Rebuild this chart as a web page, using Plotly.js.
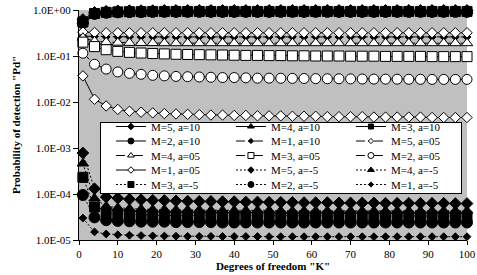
<!DOCTYPE html>
<html>
<head>
<meta charset="utf-8">
<script src="https://cdn.plot.ly/plotly-3.0.1.min.js"></script>
<style>html,body{margin:0;padding:0;background:#fff;}#chart{width:477px;height:275px;}</style>
</head>
<body>
<div id="chart"></div>
<script>
// ---- data ----
var degreesK = [1,4,7,10,13,16,19,22,25,28,31,34,37,40,43,46,49,52,55,58,61,64,67,70,73,76,79,82,85,88,91,94,97,100];

var seriesNames = ["M=5, a=10","M=4, a=10","M=3, a=10","M=2, a=10","M=1, a=10",
                   "M=5, a=05","M=4, a=05","M=3, a=05","M=2, a=05","M=1, a=05",
                   "M=5, a=-5","M=4, a=-5","M=3, a=-5","M=2, a=-5","M=1, a=-5"];

var pd_M5_a10 = [0.62,0.89,0.94,0.96,0.97,0.97,0.97,0.98,0.98,0.98,0.98,0.98,0.98,0.98,0.98,0.98,0.98,0.98,0.98,0.98,0.98,0.98,0.98,0.98,0.98,0.98,0.98,0.98,0.98,0.98,0.98,0.98,0.98,0.98];
var pd_M4_a10 = [0.58,0.86,0.91,0.93,0.94,0.94,0.95,0.95,0.95,0.95,0.95,0.95,0.95,0.95,0.95,0.95,0.95,0.95,0.95,0.95,0.95,0.95,0.95,0.95,0.95,0.95,0.95,0.95,0.95,0.95,0.95,0.95,0.95,0.95];
var pd_M3_a10 = [0.55,0.84,0.89,0.91,0.92,0.92,0.93,0.93,0.93,0.93,0.93,0.93,0.93,0.93,0.93,0.93,0.93,0.93,0.93,0.93,0.93,0.93,0.93,0.93,0.93,0.93,0.93,0.93,0.93,0.93,0.93,0.93,0.93,0.93];
var pd_M2_a10 = [0.52,0.82,0.87,0.89,0.90,0.90,0.91,0.91,0.91,0.91,0.91,0.91,0.91,0.91,0.91,0.91,0.91,0.91,0.91,0.91,0.91,0.91,0.91,0.91,0.91,0.91,0.91,0.91,0.91,0.91,0.91,0.91,0.91,0.91];
var pd_M1_a10 = [0.27,0.265,0.26,0.26,0.26,0.26,0.26,0.26,0.26,0.26,0.26,0.26,0.26,0.26,0.26,0.26,0.26,0.26,0.26,0.26,0.26,0.26,0.26,0.26,0.26,0.26,0.26,0.26,0.26,0.26,0.26,0.26,0.26,0.26];
var pd_M5_a05 = [0.33,0.325,0.32,0.32,0.32,0.32,0.32,0.32,0.32,0.32,0.32,0.32,0.32,0.32,0.32,0.32,0.32,0.32,0.32,0.32,0.32,0.32,0.32,0.32,0.32,0.32,0.32,0.32,0.32,0.32,0.32,0.32,0.32,0.32];
var pd_M4_a05 = [0.25,0.21,0.2,0.195,0.193,0.192,0.191,0.19,0.19,0.19,0.19,0.19,0.19,0.19,0.19,0.19,0.19,0.19,0.19,0.19,0.19,0.19,0.19,0.19,0.19,0.19,0.19,0.19,0.19,0.19,0.19,0.19,0.19,0.19];
var pd_M3_a05 = [0.20,0.16,0.137,0.126,0.12,0.116,0.113,0.111,0.109,0.108,0.107,0.106,0.105,0.104,0.103,0.103,0.102,0.102,0.101,0.101,0.1,0.1,0.1,0.099,0.099,0.099,0.098,0.098,0.098,0.098,0.097,0.097,0.097,0.097];
var pd_M2_a05 = [0.115,0.066,0.052,0.045,0.042,0.04,0.038,0.037,0.036,0.0355,0.035,0.0345,0.034,0.034,0.0335,0.033,0.033,0.0328,0.0326,0.0324,0.0322,0.032,0.032,0.0318,0.0316,0.0315,0.0314,0.0313,0.0312,0.0311,0.031,0.031,0.031,0.031];
var pd_M1_a05 = [0.037,0.0115,0.0082,0.0069,0.0063,0.006,0.0058,0.0056,0.0055,0.0054,0.0053,0.0052,0.0052,0.0051,0.0051,0.005,0.005,0.005,0.0049,0.0049,0.0049,0.0048,0.0048,0.0048,0.0048,0.0047,0.0047,0.0047,0.0047,0.0047,0.0046,0.0046,0.0046,0.0046];
var pd_M5_am5 = [7.8e-4,1.3e-4,8.6e-5,8.1e-5,7.7e-5,7.5e-5,7.3e-5,7.2e-5,7.1e-5,7.0e-5,6.9e-5,6.9e-5,6.8e-5,6.8e-5,6.7e-5,6.7e-5,6.6e-5,6.6e-5,6.6e-5,6.5e-5,6.5e-5,6.5e-5,6.4e-5,6.4e-5,6.4e-5,6.4e-5,6.3e-5,6.3e-5,6.3e-5,6.3e-5,6.3e-5,6.3e-5,6.2e-5,6.2e-5];
var pd_M4_am5 = [4.6e-4,8.0e-5,5.4e-5,5.0e-5,4.8e-5,4.7e-5,4.6e-5,4.6e-5,4.5e-5,4.5e-5,4.5e-5,4.4e-5,4.4e-5,4.4e-5,4.4e-5,4.4e-5,4.4e-5,4.3e-5,4.3e-5,4.3e-5,4.3e-5,4.3e-5,4.3e-5,4.3e-5,4.3e-5,4.3e-5,4.3e-5,4.3e-5,4.3e-5,4.3e-5,4.3e-5,4.3e-5,4.3e-5,4.3e-5];
var pd_M3_am5 = [2.3e-4,5.2e-5,4.0e-5,3.7e-5,3.6e-5,3.5e-5,3.5e-5,3.4e-5,3.4e-5,3.4e-5,3.4e-5,3.4e-5,3.4e-5,3.3e-5,3.3e-5,3.3e-5,3.3e-5,3.3e-5,3.3e-5,3.3e-5,3.3e-5,3.3e-5,3.3e-5,3.3e-5,3.3e-5,3.3e-5,3.3e-5,3.3e-5,3.3e-5,3.3e-5,3.3e-5,3.3e-5,3.3e-5,3.3e-5];
var pd_M2_am5 = [9.5e-5,3.1e-5,2.7e-5,2.6e-5,2.55e-5,2.5e-5,2.5e-5,2.5e-5,2.45e-5,2.45e-5,2.45e-5,2.45e-5,2.4e-5,2.4e-5,2.4e-5,2.4e-5,2.4e-5,2.4e-5,2.4e-5,2.4e-5,2.4e-5,2.4e-5,2.4e-5,2.4e-5,2.4e-5,2.4e-5,2.4e-5,2.4e-5,2.4e-5,2.4e-5,2.4e-5,2.4e-5,2.4e-5,2.4e-5];
var pd_M1_am5 = [3.0e-5,1.5e-5,1.35e-5,1.3e-5,1.27e-5,1.25e-5,1.23e-5,1.22e-5,1.21e-5,1.2e-5,1.2e-5,1.2e-5,1.19e-5,1.19e-5,1.19e-5,1.19e-5,1.18e-5,1.18e-5,1.18e-5,1.18e-5,1.18e-5,1.18e-5,1.18e-5,1.18e-5,1.18e-5,1.18e-5,1.18e-5,1.18e-5,1.18e-5,1.18e-5,1.18e-5,1.18e-5,1.18e-5,1.18e-5];

var yTickVals = [1e-5,1e-4,1e-3,1e-2,1e-1,1];
var yTickText = ["1.0E-05","1.0E-04","1.0E-03","1.0E-02","1.0E-01","1.0E+00"];
var xTickVals = [0,10,20,30,40,50,60,70,80,90,100];

// ---- styles ----
var seriesValues = [pd_M5_a10,pd_M4_a10,pd_M3_a10,pd_M2_a10,pd_M1_a10,
                    pd_M5_a05,pd_M4_a05,pd_M3_a05,pd_M2_a05,pd_M1_a05,
                    pd_M5_am5,pd_M4_am5,pd_M3_am5,pd_M2_am5,pd_M1_am5];
var DOT = "2px,2px";
var styles = [
  {dash:"solid",   symbol:"diamond",      fill:"#000", size:9,  lsize:5},
  {dash:"solid",   symbol:"triangle-up",  fill:"#000", size:10, lsize:6},
  {dash:"solid",   symbol:"square",       fill:"#000", size:10, lsize:5},
  {dash:"solid",   symbol:"circle",       fill:"#000", size:11, lsize:6},
  {dash:"dashdot", symbol:"diamond",      fill:"#000", size:6,  lsize:4},
  {dash:"dashdot", symbol:"diamond",      fill:"#fff", size:8,  lsize:4},
  {dash:"dashdot", symbol:"triangle-up",  fill:"#fff", size:10, lsize:6},
  {dash:"dashdot", symbol:"square",       fill:"#fff", size:10, lsize:6},
  {dash:"dashdot", symbol:"circle",       fill:"#fff", size:10, lsize:6},
  {dash:"solid",   symbol:"diamond",      fill:"#fff", size:8,  lsize:5},
  {dash:DOT,       symbol:"diamond",      fill:"#000", size:9,  lsize:5},
  {dash:DOT,       symbol:"triangle-up",  fill:"#000", size:10, lsize:6},
  {dash:DOT,       symbol:"square",       fill:"#000", size:10, lsize:6},
  {dash:DOT,       symbol:"circle",       fill:"#000", size:11, lsize:6},
  {dash:DOT,       symbol:"diamond",      fill:"#000", size:6,  lsize:4}
];

var traces = [];
seriesNames.forEach(function(name, i){
  var st = styles[i];
  traces.push({
    type:"scatter", mode:"lines+markers", name:name, showlegend:false,
    x:degreesK, y:seriesValues[i], cliponaxis:false,
    line:{color:"#000", width:1, dash:st.dash},
    marker:{symbol:st.symbol, size:st.size, color:st.fill, line:{color:"#000", width:1}}
  });
});
// legend-only entries (small symbols, like the reference legend)
seriesNames.forEach(function(name, i){
  var st = styles[i];
  traces.push({
    type:"scatter", mode:"lines+markers", name:name, showlegend:true,
    x:[null], y:[null],
    line:{color:"#000", width:1, dash:st.dash},
    marker:{symbol:st.symbol, size:st.lsize, color:st.fill, line:{color:"#000", width:1}}
  });
});

var font = "Liberation Serif, Times New Roman, serif";
var layout = {
  width:477, height:275,
  margin:{l:79, r:10, t:10, b:35, pad:0},
  paper_bgcolor:"#fff", plot_bgcolor:"#c0c0c0",
  font:{family:font, size:11, color:"#000"},
  showlegend:true,
  xaxis:{range:[0,100], tickvals:xTickVals, showgrid:false, zeroline:false,
         showline:true, linecolor:"#000", linewidth:1, ticks:"outside", ticklen:4, tickcolor:"#000",
         tickfont:{family:font, size:11},
         title:{text:"Degrees of freedom \"K\"", font:{family:font, size:11, weight:"bold"}, standoff:2}},
  yaxis:{type:"log", range:[-5,0], tickvals:yTickVals, ticktext:yTickText, showgrid:false, zeroline:false,
         showline:true, linecolor:"#000", linewidth:1, ticks:"outside", ticklen:5, tickcolor:"#000",
         tickfont:{family:font, size:11},
         title:{text:"Probability of detection \"Pd\"", font:{family:font, size:11, weight:"bold"}, standoff:10}},
  legend:{orientation:"h", x:0.054, xanchor:"left", y:0.513, yanchor:"top",
          bgcolor:"#fff", bordercolor:"#000", borderwidth:1,
          entrywidth:75, entrywidthmode:"pixels", traceorder:"normal",
          font:{family:font, size:11, color:"#000"}}
};

// compact the legend rows (Excel-like row pitch of ~14.5 px)
var ROW_PITCH = 14.5, COLS = 3, SHIFT_X = 10, SHIFT_Y = -11, BOX_H = 71;
function compactLegend(gd){
  var items = gd.querySelectorAll(".legend .traces");
  if(!items.length) return;
  var m0 = /translate\(\s*([-\d.e]+)[ ,]+([-\d.e]+)\s*\)/.exec(items[0].getAttribute("transform") || "");
  var y0 = m0 ? parseFloat(m0[2]) : 0;
  items.forEach(function(el, i){
    var m = /translate\(\s*([-\d.e]+)[ ,]+([-\d.e]+)\s*\)/.exec(el.getAttribute("transform") || "");
    if(!m) return;
    var row = Math.floor(i / COLS);
    var nx = parseFloat(m[1]) + SHIFT_X;
    var ny = y0 + SHIFT_Y + row * ROW_PITCH;
    el.setAttribute("transform", "translate(" + nx + "," + ny + ")");
  });
  var bg = gd.querySelector(".legend rect.bg");
  if(bg) bg.setAttribute("height", BOX_H);
}

Plotly.newPlot("chart", traces, layout, {staticPlot:true, displayModeBar:false}).then(compactLegend);
</script>
</body>
</html>
